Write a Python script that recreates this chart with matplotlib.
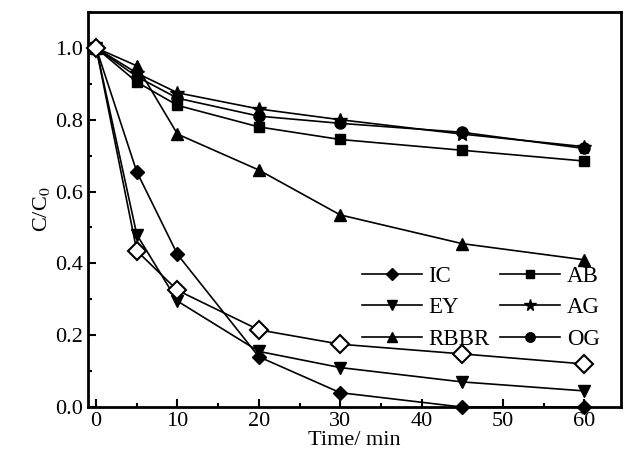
import numpy as np
import matplotlib
matplotlib.use("Agg")
import matplotlib.pyplot as plt
from matplotlib.ticker import MultipleLocator

plt.rcParams["font.family"] = ["Liberation Serif", "DejaVu Serif"]
plt.rcParams["mathtext.fontset"] = "stix"

time = [0, 5, 10, 20, 30, 45, 60]

ic = [1.0, 0.655, 0.425, 0.14, 0.04, 0.0, 0.0]
ey = [1.0, 0.48, 0.295, 0.155, 0.11, 0.07, 0.045]
rbbr = [1.0, 0.95, 0.76, 0.66, 0.535, 0.455, 0.41]
ab = [1.0, 0.905, 0.84, 0.78, 0.745, 0.715, 0.685]
ag = [1.0, 0.93, 0.875, 0.83, 0.80, 0.76, 0.725]
og = [1.0, 0.92, 0.86, 0.81, 0.79, 0.765, 0.72]
mix = [1.0, 0.435, 0.325, 0.215, 0.175, 0.148, 0.12]

fig = plt.figure(figsize=(6.24, 4.61), dpi=100)
ax = fig.add_axes([0.141, 0.117, 0.854, 0.857])

kw = dict(color="black", lw=1.2, clip_on=False, zorder=3)
# legend is filled column by column, so left column first
ax.plot(time, ic, marker="D", ms=7, label="IC", **kw)
ax.plot(time, ey, marker="v", ms=9, label="EY", **kw)
ax.plot(time, rbbr, marker="^", ms=9, label="RBBR", **kw)
ax.plot(time, ab, marker="s", ms=7, label="AB", **kw)
ax.plot(time, ag, marker="*", ms=10, label="AG", **kw)
ax.plot(time, og, marker="o", ms=8, label="OG", **kw)
ax.plot(time, mix, marker="D", ms=9, mfc="white", mec="black", mew=1.5,
        color="black", lw=1.2, clip_on=False, zorder=4)

ax.set_xlim(-1, 64.5)
ax.set_ylim(0, 1.1)
ax.xaxis.set_major_locator(MultipleLocator(10))
ax.xaxis.set_minor_locator(MultipleLocator(5))
ax.yaxis.set_major_locator(MultipleLocator(0.2))
ax.yaxis.set_minor_locator(MultipleLocator(0.1))
ax.yaxis.set_major_formatter(matplotlib.ticker.FormatStrFormatter("%.1f"))

ax.tick_params(which="both", direction="in", labelsize=16, width=1.5)
ax.tick_params(which="major", length=6)
ax.tick_params(which="minor", length=3)
for s in ax.spines.values():
    s.set_linewidth(2)

ax.set_xlabel("Time/ min", fontsize=16, labelpad=0)
ax.set_ylabel("C/C$_0$", fontsize=16, labelpad=2)

leg = ax.legend(ncol=2, frameon=False, fontsize=16.5, loc="lower right",
                bbox_to_anchor=(0.99, 0.105), handlelength=2.6, handletextpad=0.3,
                columnspacing=0.45, labelspacing=0.45, borderpad=0.2, markerscale=0.85)
leg.set_zorder(10)

fig.savefig("out.png", dpi=100)
